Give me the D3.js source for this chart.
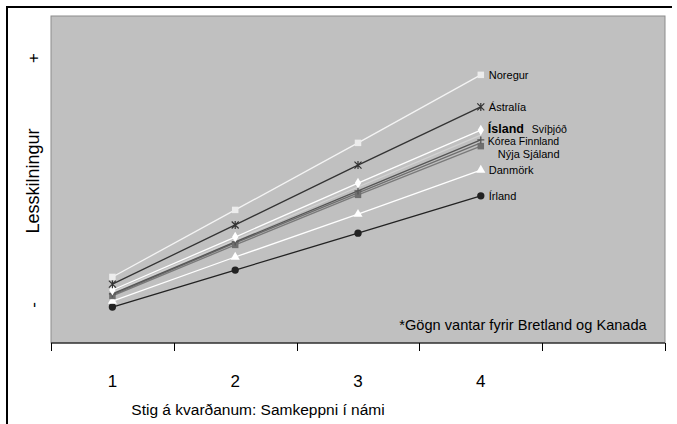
<!DOCTYPE html>
<html>
<head>
<meta charset="utf-8">
<style>
    body {margin: 0; background: #fff;}
    text {font-family: Arial, "Liberation Sans", sans-serif; fill: #000;}
</style>
<script src="https://d3js.org/d3.v7.min.js"></script>
</head>
<body>
<script>

    // categories on the x axis (the last one is an empty slot)
    var categories = ["1", "2", "3", "4", ""];

    // arbitrary 0-100 scale
    var noregur     = [20.2, 40.7, 61.2, 82.0];
    var astralia    = [18.0, 36.1, 54.4, 72.2];
    var island      = [16.2, 32.4, 48.9, 65.1];
    var svithjod    = [15.6, 31.5, 47.7, 63.6];
    var korea       = [15.0, 30.9, 46.5, 62.1];
    var finnland    = [14.7, 30.6, 45.9, 61.2];
    var nyjaSjaland = [14.4, 30.0, 45.3, 60.2];
    var danmork     = [12.8, 26.3, 39.4, 52.9];
    var irland      = [11.0, 22.3, 33.6, 45.0];

    var names = ["Noregur", "Ástralía", "Ísland", "Svíþjóð", "Kórea", "Finnland", "Nýja Sjáland", "Danmörk", "Írland"];
    var seriesValues = [noregur, astralia, island, svithjod, korea, finnland, nyjaSjaland, danmork, irland];

    // look of each series: line colour, marker, label offsets
    var styles = [
        {line: "#f4f4f4", marker: "square",   fill: "#ececec", dx: 8,  dy: 4,  size: 11},
        {line: "#333333", marker: "star",     fill: "#333333", dx: 8,  dy: 4,  size: 11},
        {line: "#ffffff", marker: "diamond",  fill: "#ffffff", dx: 7,  dy: 3,  size: 12.5, bold: true},
        {line: "#d2d2d2", marker: "none",     fill: "#d2d2d2", dx: 51, dy: -2, size: 10.5},
        {line: "#555555", marker: "plus",     fill: "#555555", dx: 7,  dy: 5,  size: 10.5},
        {line: "#6e6e6e", marker: "none",     fill: "#6e6e6e", dx: 38, dy: 2,  size: 10.5},
        {line: "#7a7a7a", marker: "square",   fill: "#6e6e6e", dx: 17, dy: 12, size: 11},
        {line: "#ffffff", marker: "triangle", fill: "#ffffff", dx: 8,  dy: 4,  size: 11},
        {line: "#222222", marker: "circle",   fill: "#222222", dx: 8,  dy: 4,  size: 11}
    ];

    var W = 677, H = 424;
    var plot = {left: 51, right: 665, top: 16, bottom: 343};

    var svg = d3.select("body").append("svg")
        .attr("width", W)
        .attr("height", H);

    // outer frame (top and left visible)
    svg.append("path")
        .attr("d", "M7,424 V7 H672")
        .attr("fill", "none")
        .attr("stroke", "#000")
        .attr("stroke-width", 2);

    var x = d3.scaleBand()
        .domain(categories)
        .range([plot.left, plot.right])
        .paddingInner(0).paddingOuter(0);

    var y = d3.scaleLinear()
        .domain([0, 100])
        .range([plot.bottom, plot.top]);

    function cx(i) { return x(categories[i]) + x.bandwidth() / 2; }

    // plot background
    svg.append("rect")
        .attr("x", plot.left)
        .attr("y", plot.top)
        .attr("width", plot.right - plot.left)
        .attr("height", plot.bottom - plot.top)
        .attr("fill", "#c0c0c0")
        .attr("stroke", "#8c8c8c")
        .attr("stroke-width", 1);

    // x axis: line, ticks between categories, labels in the middle
    var ax = svg.append("g");
    ax.append("line")
        .attr("x1", plot.left).attr("x2", plot.right)
        .attr("y1", plot.bottom).attr("y2", plot.bottom)
        .attr("stroke", "#000").attr("stroke-width", 1);

    var bounds = categories.map(function (c) { return x(c); }).concat([x.range()[1]]);
    ax.selectAll("line.tick")
        .data(bounds)
        .enter().append("line")
        .attr("class", "tick")
        .attr("x1", function (d) { return Math.round(d) + 0.5; })
        .attr("x2", function (d) { return Math.round(d) + 0.5; })
        .attr("y1", plot.bottom)
        .attr("y2", plot.bottom + 8)
        .attr("stroke", "#000");

    ax.selectAll("text.lab")
        .data(categories)
        .enter().append("text")
        .attr("class", "lab")
        .attr("x", function (d) { return x(d) + x.bandwidth() / 2; })
        .attr("y", 387)
        .attr("text-anchor", "middle")
        .attr("font-size", 17)
        .text(function (d) { return d; });

    svg.append("text")
        .attr("x", 258)
        .attr("y", 415)
        .attr("text-anchor", "middle")
        .attr("font-size", 15.5)
        .text("Stig á kvarðanum: Samkeppni í námi");

    // y axis title with + and -
    svg.append("text")
        .attr("transform", "translate(39,181) rotate(-90)")
        .attr("text-anchor", "middle")
        .attr("font-size", 18)
        .text("Lesskilningur");
    svg.append("text")
        .attr("transform", "translate(39,58) rotate(-90)")
        .attr("text-anchor", "middle")
        .attr("font-size", 17)
        .text("+");
    svg.append("text")
        .attr("transform", "translate(39,305) rotate(-90)")
        .attr("text-anchor", "middle")
        .attr("font-size", 17)
        .text("-");

    var line = d3.line()
        .x(function (d, i) { return cx(i); })
        .y(function (d) { return y(d); });

    // draw bottom series first so the top ones sit above
    var order = d3.range(names.length).reverse();

    order.forEach(function (k) {
        svg.append("path")
            .datum(seriesValues[k])
            .attr("d", line)
            .attr("fill", "none")
            .attr("stroke", styles[k].line)
            .attr("stroke-width", 1.3);
    });

    var symbols = {
        square: d3.symbolSquare,
        diamond: d3.symbolDiamond,
        triangle: d3.symbolTriangle,
        circle: d3.symbolCircle
    };

    order.forEach(function (k) {
        var st = styles[k];
        if (st.marker === "none") return;
        var g = svg.append("g");
        seriesValues[k].forEach(function (v, i) {
            var px = cx(i), py = y(v);
            if (st.marker === "plus") {
                g.append("path")
                    .attr("d", "M" + (px - 3.5) + "," + py + "H" + (px + 3.5) + "M" + px + "," + (py - 3.5) + "V" + (py + 3.5))
                    .attr("stroke", st.fill).attr("stroke-width", 1.3);
            } else if (st.marker === "star") {
                g.append("path")
                    .attr("d", "M" + (px - 3.5) + "," + (py - 3.5) + "L" + (px + 3.5) + "," + (py + 3.5) +
                               "M" + (px - 3.5) + "," + (py + 3.5) + "L" + (px + 3.5) + "," + (py - 3.5) +
                               "M" + px + "," + (py - 4) + "V" + (py + 4))
                    .attr("stroke", st.fill).attr("stroke-width", 1.2);
            } else {
                var sz = st.marker === "diamond" ? 34 : (st.marker === "triangle" ? 36 : 42);
                g.append("path")
                    .attr("transform", "translate(" + px + "," + py + ")")
                    .attr("d", d3.symbol().type(symbols[st.marker]).size(sz)())
                    .attr("fill", st.fill);
            }
        });
    });

    // series labels next to the last point
    names.forEach(function (n, k) {
        var st = styles[k];
        var last = seriesValues[k][seriesValues[k].length - 1];
        svg.append("text")
            .attr("x", cx(3) + st.dx)
            .attr("y", y(last) + st.dy)
            .attr("font-size", st.size)
            .attr("font-weight", st.bold ? "bold" : "normal")
            .text(n);
    });

    svg.append("text")
        .attr("x", 523)
        .attr("y", 330)
        .attr("text-anchor", "middle")
        .attr("font-size", 14.6)
        .text("*Gögn vantar fyrir Bretland og Kanada");

</script>
</body>
</html>
